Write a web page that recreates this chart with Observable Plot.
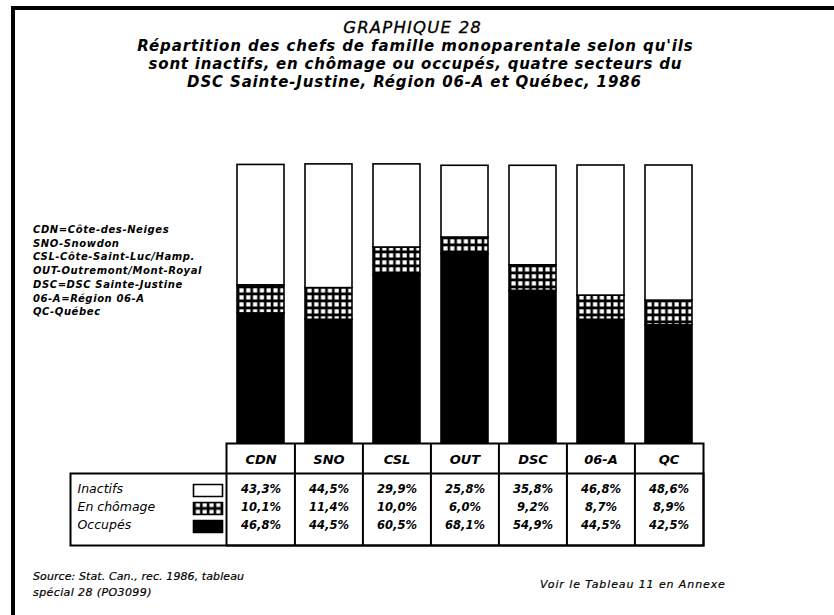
<!DOCTYPE html>
<html><head><meta charset="utf-8">
<script src="https://cdn.jsdelivr.net/npm/d3@7"></script>
<script src="https://cdn.jsdelivr.net/npm/@observablehq/plot@0.6"></script>
<style>
html,body{margin:0;padding:0;background:#fff;}
#wrap{position:relative;width:834px;height:615px;overflow:hidden;background:#fff;font-family:"DejaVu Sans",sans-serif;font-style:italic;color:#000;}
#wrap svg{position:absolute;left:0;top:0;}
.t{position:absolute;white-space:nowrap;}
</style></head>
<body><div id="wrap"></div>
<script>
// ---- data ----
const sectors = ["CDN","SNO","CSL","OUT","DSC","06-A","QC"];
const statuses = ["Occupés","En chômage","Inactifs"];
const occupes = [46.8,44.5,60.5,68.1,54.9,44.5,42.5];
const chomage = [10.1,11.4,10.0,6.0,9.2,8.7,8.9];
const inactifs = [43.3,44.5,29.9,25.8,35.8,46.8,48.6];
const rowLabels = ["Inactifs","En chômage","Occupés"];
const sectorNames = ["CDN=Côte-des-Neiges","SNO-Snowdon","CSL-Côte-Saint-Luc/Hamp.","OUT-Outremont/Mont-Royal","DSC=DSC Sainte-Justine","06-A=Région 06-A","QC-Québec"];
const titleLines = ["GRAPHIQUE 28","Répartition des chefs de famille monoparentale selon qu'ils","sont inactifs, en chômage ou occupés, quatre secteurs du","DSC Sainte-Justine, Région 06-A et Québec, 1986"];
const sourceLines = ["Source: Stat. Can., rec. 1986, tableau","spécial 28 (PO3099)"];
const noteText = "Voir le Tableau 11 en Annexe";

const seriesByStatus = {"Occupés":occupes,"En chômage":chomage,"Inactifs":inactifs};
const long = [];
statuses.forEach(s => sectors.forEach((c,i) => long.push({sector:c,status:s,value:seriesByStatus[s][i]})));
const fmt = v => v.toFixed(1).replace(".", ",") + "%";

const W = 834, H = 615;
const mL = 226, mR = 131, mT = 165, mB = 172;
const step = (W - mL - mR) / sectors.length;
const tableH = 102, headH = 30;
const plotH = H - mT - mB;
const rowDy = [49, 67, 85];
const swFill = {"Inactifs":"white","En chômage":"url(#grid)","Occupés":"black"};
const rectSym = {draw(ctx){ ctx.rect(-14.5,-6,29,12); }};

const marks = [
  Plot.barY(long, {x:"sector", y:"value", fill:"status", stroke:"black", strokeWidth:1.6}),
  Plot.text(sectors, {x:d=>d, frameAnchor:"bottom", dy:20, fontSize:13, fontWeight:"bold", fontStyle:"italic"}),
  Plot.frame({insetTop:plotH, insetBottom:-tableH, stroke:"black", strokeWidth:2}),
  Plot.frame({insetLeft:-156, insetTop:plotH+headH, insetBottom:-tableH, stroke:"black", strokeWidth:2}),
  Plot.ruleX(sectors.slice(1), {x:d=>d, dx:-step/2, insetTop:plotH, insetBottom:-tableH, stroke:"black", strokeWidth:2})
];
rowLabels.forEach((r,k) => {
  const vals = seriesByStatus[r];
  marks.push(Plot.text(sectors.map((c,i)=>({sector:c, v:vals[i]})), {x:"sector", text:d=>fmt(d.v), frameAnchor:"bottom", dy:rowDy[k], fontSize:11.5, fontWeight:"bold", fontStyle:"italic"}));
  marks.push(Plot.text([r], {frameAnchor:"bottom-left", dx:-149, dy:rowDy[k], textAnchor:"start", fontSize:12.5, fontStyle:"italic", fontWeight:"500"}));
  marks.push(Plot.dot([r], {frameAnchor:"bottom-left", dx:-18.5, dy:rowDy[k]-2, symbol:rectSym, fill:swFill[r], stroke:"black", strokeWidth:1.6}));
});

const chart = Plot.plot({
  width:W, height:H, marginTop:mT, marginBottom:mB, marginLeft:mL, marginRight:mR,
  x:{domain:sectors, paddingInner:0.31, paddingOuter:0.155, axis:null},
  y:{domain:[0,100], axis:null},
  color:{domain:statuses, range:["black","url(#grid)","white"]},
  style:{fontFamily:"DejaVu Sans", background:"transparent", color:"black"},
  marks
});
d3.select(chart).insert("defs", ":first-child").html(
  '<pattern id="grid" patternUnits="userSpaceOnUse" width="6.8" height="7"><rect width="6.8" height="7" fill="black"/><rect x="1.4" y="1.3" width="4.2" height="4.2" fill="white"/></pattern>');

const wrap = document.getElementById("wrap");
const frame = document.createElement("div");
frame.style.cssText = "position:absolute;left:11px;top:6px;width:900px;height:700px;border-left:4px solid #000;border-top:4px solid #000;box-sizing:border-box;";
wrap.appendChild(frame);
wrap.appendChild(chart);

function addText(txt, {x, cy, size, weight="normal", ls=0, anchor="start", stroke=0}) {
  const el = document.createElement("div");
  el.className = "t";
  el.textContent = txt;
  el.style.fontSize = size + "px";
  el.style.fontWeight = weight;
  el.style.letterSpacing = ls + "px";
  el.style.lineHeight = (size*1.2) + "px";
  if (stroke) el.style.webkitTextStroke = stroke + "px black";
  wrap.appendChild(el);
  const w = el.getBoundingClientRect().width - ls;
  const left = anchor === "middle" ? x - w/2 : x;
  el.style.left = left + "px";
  el.style.top = (cy - size*0.6) + "px";
  return el;
}
addText(titleLines[0], {x:412, cy:28, size:16.5, ls:1.2, anchor:"middle", stroke:0.3});
addText(titleLines[1], {x:415, cy:46, size:15, weight:"bold", ls:0.88, anchor:"middle"});
addText(titleLines[2], {x:415, cy:64, size:15, weight:"bold", ls:0.78, anchor:"middle"});
addText(titleLines[3], {x:414, cy:82, size:15, weight:"bold", ls:0.85, anchor:"middle"});
sectorNames.forEach((s,i) => addText(s, {x:33, cy:230 + i*13.7, size:10, weight:"bold", ls:0.6}));
addText(sourceLines[0], {x:33, cy:577, size:11, ls:0.1, stroke:0.2});
addText(sourceLines[1], {x:33, cy:593, size:11, ls:0.4, stroke:0.2});
addText(noteText, {x:540, cy:585, size:11, ls:0.9, stroke:0.2});
</script></body></html>
